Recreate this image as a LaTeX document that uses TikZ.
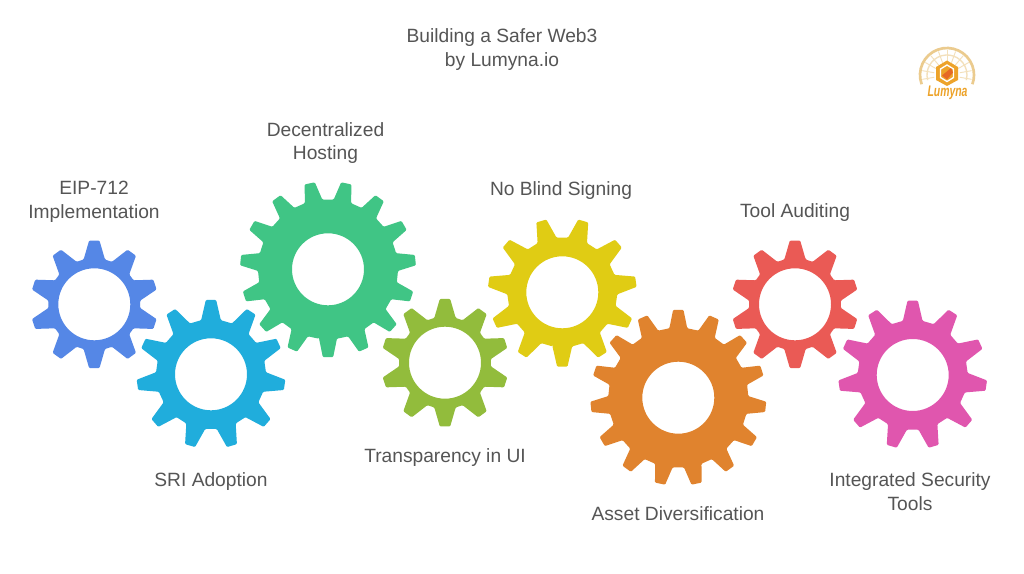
\documentclass[tikz,border=0pt]{standalone}
\usepackage{fontspec}
\setmainfont{Liberation Sans}
\definecolor{gearblue}{HTML}{5587E6}
\definecolor{gearcyan}{HTML}{20ADDC}
\definecolor{geargreen}{HTML}{40C585}
\definecolor{gearolive}{HTML}{92BC3C}
\definecolor{gearyellow}{HTML}{E0CC14}
\definecolor{gearorange}{HTML}{E0832E}
\definecolor{gearred}{HTML}{EA5A55}
\definecolor{gearpink}{HTML}{E056AE}
\definecolor{labelgray}{HTML}{555555}
\definecolor{logotan}{HTML}{EBCB8E}
\definecolor{logogold}{HTML}{EDA32A}
\tikzset{
  lbl/.style={inner sep=0.75pt,align=center,text=labelgray,font=\fontsize{14.4pt}{17.6pt}\selectfont},
  geartooth/.style={even odd rule,rounded corners=0.8pt}
}
% #1,#2 centre, #3 outer radius, #4 root radius, #5 teeth, #6 first angle, #7 colour, #8 base half width
\newcommand{\drawgear}[8]{
  \pgfmathsetmacro{\tipang}{atan(5.2/#3)}
  \pgfmathsetmacro{\rootang}{atan(#8/#4)}
  \begin{scope}[shift={(#1,#2)}]
  \fill[geartooth,#7] (#6+\rootang:#4)
    \foreach \i [evaluate=\i as \a using #6+\i*360/#5] in {1,...,#5}{
      -- (\a-\rootang:#4) -- (\a-\tipang:#3) -- (\a+\tipang:#3) -- (\a+\rootang:#4)
    } -- cycle (0,0) circle (36);
  \end{scope}
}
\begin{document}
\begin{tikzpicture}[x=0.75pt,y=0.75pt,yscale=-1,xscale=1]
\path[use as bounding box,fill=white] (0,0) rectangle (1024,574);

%Gears
\drawgear{94.3}{304.3}{64}{46}{10}{270}{gearblue}{11}
\drawgear{211}{374.3}{74.5}{55}{11}{270}{gearcyan}{10}
\drawgear{328}{269.3}{88}{70}{15}{90}{geargreen}{9}
\drawgear{445}{362.7}{64}{46}{10}{270}{gearolive}{11}
\drawgear{562.3}{292.3}{74.5}{55}{11}{90}{gearyellow}{10}
\drawgear{678.3}{397.7}{88}{70}{15}{270}{gearorange}{9}
\drawgear{795}{304.3}{64}{46}{10}{270}{gearred}{11}
\drawgear{912.7}{375}{74.5}{55}{11}{270}{gearpink}{10}

% Text Node
\draw (502,49.5) node (title) [lbl] {Building a Safer Web3\\by Lumyna.io};
% Text Node
\draw (94,202) node (eip) [lbl] {EIP-712\\Implementation};
% Text Node
\draw (325.5,143) node (hosting) [lbl] {Decentralized\\Hosting};
% Text Node
\draw (561,190.5) node (signing) [lbl] {No Blind Signing};
% Text Node
\draw (795,213) node (auditing) [lbl] {Tool Auditing};
% Text Node
\draw (211,482) node (sri) [lbl] {SRI Adoption};
% Text Node
\draw (445,458) node (transparency) [lbl] {Transparency in UI};
% Text Node
\draw (678,513.5) node (asset) [lbl] {Asset Diversification};
% Text Node
\draw (910,491.5) node (integrated) [lbl] {Integrated Security\\Tools};

%Logo
\begin{scope}[shift={(947,75)}]
\foreach \a in {170,190,...,370}{
  \draw[logotan!60,line width=0.7] (\a:13) -- (\a:25);
}
\draw[logotan,line width=2] (160:27) arc (160:380:27);
\draw[logotan!60,line width=1] (165:20) arc (165:375:20);
\end{scope}
\fill[logogold] (947,60.5) -- (958,67) -- (958,80) -- (947,86) -- (936,80) -- (936,67) -- cycle;
\draw[white,line width=1] (947,65) -- (953.5,69) -- (953.5,77.5) -- (947,81.5) -- (940.5,77.5) -- (940.5,69) -- cycle;
\fill[gearorange!80!red] (942,75.5) -- (951,68) -- (953,72.5) -- (947,79.5) -- cycle;
\draw (947.5,93) node (logotext) [inner sep=0pt,text=logogold,xscale=0.68,font=\fontsize{11.5pt}{12pt}\selectfont\bfseries\itshape] {Lumyna};

\end{tikzpicture}
\end{document}
